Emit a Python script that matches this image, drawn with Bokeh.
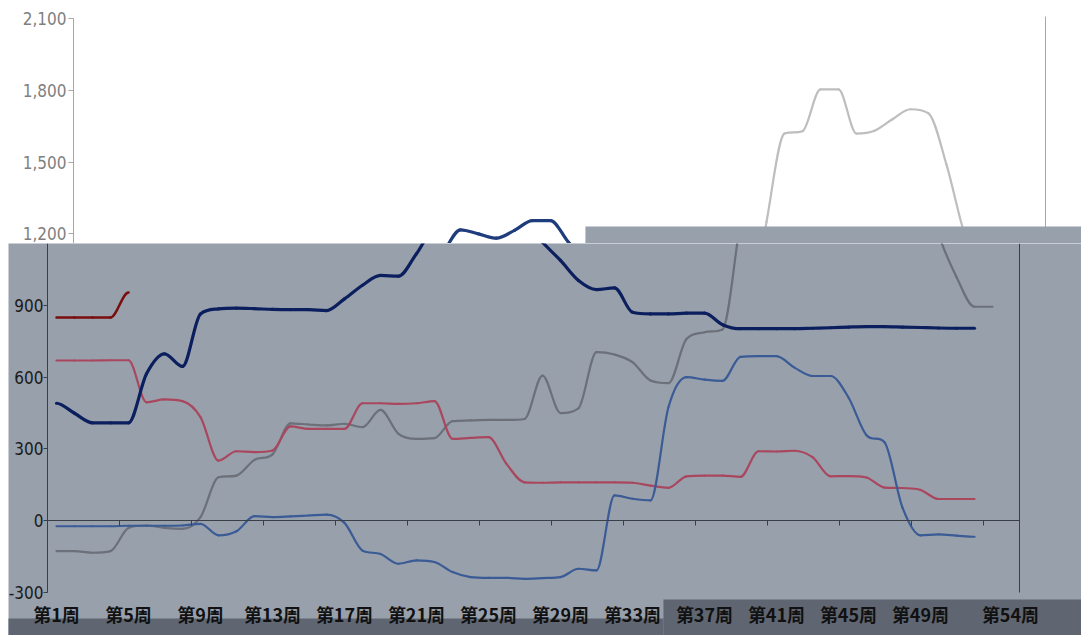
import numpy as np
from bokeh.plotting import figure
from bokeh.models import (Range1d, LinearAxis, FixedTicker, NumeralTickFormatter, BoxAnnotation,
                          Spacer, ColumnDataSource)
from bokeh.layouts import column, row
from bokeh.embed import file_html
from bokeh.resources import INLINE

# ---------------- data ----------------
weeks = list(range(1, 55))
label_weeks = [1, 5, 9, 13, 17, 21, 25, 29, 33, 37, 41, 45, 49, 54]
week_labels = ["第1周", "第5周", "第9周", "第13周", "第17周", "第21周", "第25周",
               "第29周", "第33周", "第37周", "第41周", "第45周", "第49周", "第54周"]
y_ticks_low = [-300, 0, 300, 600, 900]
y_ticks_high = [1200, 1500, 1800, 2100]

s_darkred = [850, 850, 850, 850, 955]
s_navy = [491, 449, 409, 409, 409, 614, 698, 645, 865, 886,
          889, 887, 884, 883, 883, 879, 928, 985, 1026, 1023,
          1117, 1217, 1200, 1182, 1215, 1256, 1256, 1165, 1089, 1005,
          967, 974, 872, 865, 865, 868, 868, 820, 803, 803,
          803, 803, 805, 807, 810, 812, 812, 810, 808, 806, 805, 805]
s_pink = [670, 670, 670, 671, 671, 495, 507, 500, 433, 251,
          290, 286, 293, 394, 384, 384, 384, 491, 491, 488,
          491, 500, 342, 346, 349, 237, 160, 158, 160, 160,
          160, 160, 158, 146, 137, 185, 188, 188, 183, 290,
          289, 292, 265, 185, 186, 180, 138, 136, 128, 90, 90, 90]
s_gray = [-128, -128, -135, -128, -31, -21, -31, -35, 14, 181,
          188, 254, 277, 407, 402, 398, 405, 391, 463, 363,
          342, 345, 416, 419, 421, 421, 425, 607, 450, 470,
          705, 695, 663, 586, 575, 760, 788, 800, 1250, 1620,
          1630, 1805, 1805, 1620, 1632, 1680, 1722, 1705, 1490, 1200,
          1020, 895, 895]
s_blue = [-24, -24, -24, -24, -22, -22, -22, -21, -14, -62,
          -45, 18, 14, 17, 21, 25, -10, -126, -140, -181,
          -167, -174, -216, -237, -240, -240, -244, -241, -237, -202,
          -209, 105, 91, 84, 475, 600, 590, 585, 685, 688,
          688, 640, 605, 605, 515, 357, 328, 54, -62, -58, -63, -68]


def smooth_source(vals):
    """Smoothed-line rendering (as in the original chart): one cubic Bezier per pair of
    consecutive weeks, with monotone (overshoot-free) tangents."""
    x = np.array(weeks[:len(vals)], dtype=float)
    y = np.array(vals, dtype=float)
    n = len(x)
    d = np.diff(y)
    m = np.zeros(n)
    for i in range(n):
        if i == 0 or i == n - 1:
            m[i] = 0.0
        elif d[i - 1] * d[i] <= 0:
            m[i] = 0.0
        else:
            m[i] = (d[i - 1] + d[i]) / 2
            lim = 3 * min(abs(d[i - 1]), abs(d[i]))
            m[i] = np.sign(m[i]) * min(abs(m[i]), lim)
    src = {k: [] for k in ("x0", "y0", "x1", "y1", "cx0", "cy0", "cx1", "cy1")}
    for i in range(n - 1):
        h = x[i + 1] - x[i]
        src["x0"].append(x[i]); src["y0"].append(y[i])
        src["x1"].append(x[i + 1]); src["y1"].append(y[i + 1])
        src["cx0"].append(x[i] + h / 3); src["cy0"].append(y[i] + m[i] * h / 3)
        src["cx1"].append(x[i + 1] - h / 3); src["cy1"].append(y[i + 1] - m[i + 1] * h / 3)
    return src


# (values, colour in white part, colour in grey part, width)
series = [
    (s_gray, "#BEBEBE", "#6B7079", 2.2),
    (s_pink, "#C0506A", "#A9475F", 2.2),
    (s_blue, "#4F74B2", "#3A5B95", 2.2),
    (s_navy, "#1F3D7C", "#0B1F5E", 3.2),
    (s_darkred, "#A01010", "#7A0D0D", 2.5),
]

NUM_FONT = "'DejaVu Sans Condensed', sans-serif"
CJK_FONT = "'Noto Sans CJK SC', sans-serif"
GREY = "#98A0AC"
BAND = "#5F6672"
AXIS_DARK = "#3A3F47"


def bare_fig(w, h, xr, yr, bg):
    f = figure(width=w, height=h, x_range=xr, y_range=yr, output_backend="svg",
               toolbar_location=None, x_axis_location=None, y_axis_location=None,
               min_border_left=0, min_border_right=0, min_border_top=0, min_border_bottom=0,
               background_fill_color=bg, border_fill_color=bg, outline_line_color=None)
    f.grid.visible = False
    return f


def draw_series(f, which):
    for vals, c_top, c_bot, lw in series:
        color = c_top if which == "top" else c_bot
        f.bezier(x0="x0", y0="y0", x1="x1", y1="y1", cx0="cx0", cy0="cy0", cx1="cx1", cy1="cy1",
                 source=ColumnDataSource(smooth_source(vals)),
                 line_color=color, line_width=lw, line_cap="round")


# ---------------- upper (white) part ----------------
top = bare_fig(1081, 243, Range1d(0.5 - 73 / 18, 0.5 + 1008 / 18), Range1d(1159.8, 2177.3), "white")

ya = LinearAxis(fixed_location=0.5, ticker=FixedTicker(ticks=y_ticks_high),
                formatter=NumeralTickFormatter(format="0,0"), bounds=(1100, 2100),
                axis_line_color="#A6A6A6", major_tick_line_color="#A6A6A6",
                major_tick_out=5, major_tick_in=0, minor_tick_line_color=None,
                major_label_text_color="#7F7F7F", major_label_text_font=NUM_FONT,
                major_label_text_font_size="17px", major_label_standoff=2)
top.add_layout(ya, "left")

ra = LinearAxis(fixed_location=54.5, ticker=FixedTicker(ticks=[]), bounds=(1100, 2110),
                axis_line_color="#A6A6A6", major_tick_line_color=None,
                minor_tick_line_color=None, major_label_text_font_size="0px")
top.add_layout(ra, "right")

draw_series(top, "top")

top.add_layout(BoxAnnotation(left=28.94, right=60, bottom=1000, top=1231, fill_color=GREY,
                             fill_alpha=1, line_color=None))

# ---------------- lower (grey) part ----------------
bot = bare_fig(1073, 392, Range1d(0.5 - 39 / 18, 0.5 + 1034 / 18), Range1d(-481.5, 1159.8), GREY)

bot.add_layout(BoxAnnotation(left=-5, right=34.72, bottom=-700, top=-410.3, fill_color=BAND,
                             fill_alpha=1, line_color=None, level="underlay"))
bot.add_layout(BoxAnnotation(left=34.72, right=70, bottom=-700, top=-330.8, fill_color=BAND,
                             fill_alpha=1, line_color=None, level="underlay"))

la = LinearAxis(fixed_location=0.5, ticker=FixedTicker(ticks=y_ticks_low),
                formatter=NumeralTickFormatter(format="0,0"), bounds=(-300, 1159.8),
                axis_line_color=AXIS_DARK, major_tick_line_color=AXIS_DARK,
                major_tick_out=4, major_tick_in=0, minor_tick_line_color=None,
                major_label_text_color="#1A1A1A", major_label_text_font=NUM_FONT,
                major_label_text_font_size="17px", major_label_standoff=0)
bot.add_layout(la, "left")

xa = LinearAxis(fixed_location=-300, ticker=FixedTicker(ticks=label_weeks),
                major_label_overrides={w: t for w, t in zip(label_weeks, week_labels)},
                axis_line_color=None, major_tick_line_color=None, minor_tick_line_color=None,
                major_label_standoff=3, major_label_text_font=CJK_FONT,
                major_label_text_font_style="bold", major_label_text_font_size="18px",
                major_label_text_color="#111111")
bot.add_layout(xa, "below")

boundary_ticks = [float(b) for b in np.arange(4.5, 54.5, 4)]
za = LinearAxis(fixed_location=0, ticker=FixedTicker(ticks=boundary_ticks), bounds=(0.5, 54.5),
                axis_line_color=AXIS_DARK, major_tick_line_color=AXIS_DARK, major_tick_out=5,
                major_tick_in=0, minor_tick_line_color=None,
                major_label_overrides={b: "" for b in boundary_ticks},
                major_label_text_font_size="0px")
bot.add_layout(za, "below")

rb = LinearAxis(fixed_location=54.5, ticker=FixedTicker(ticks=[]), bounds=(-300, 1159.8),
                axis_line_color=AXIS_DARK, major_tick_line_color=None,
                minor_tick_line_color=None, major_label_text_font_size="0px")
bot.add_layout(rb, "right")

draw_series(bot, "bot")

layout = column(top, row(Spacer(width=8, height=392), bot, spacing=0), spacing=0)
open("out.html", "w").write(file_html(layout, INLINE))
